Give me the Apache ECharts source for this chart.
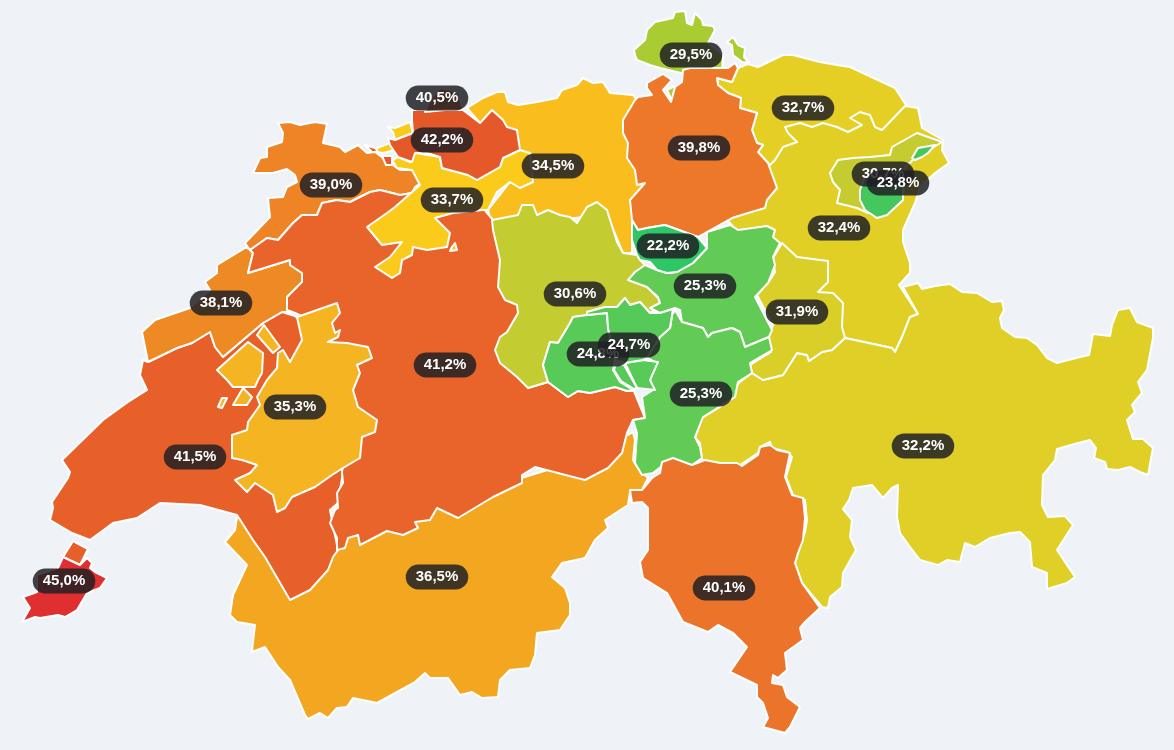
<!DOCTYPE html>
<html><head><meta charset="utf-8">
<style>html,body{margin:0;padding:0;background:#eff3f7;}#c{width:1174px;height:750px;}</style>
<script src="https://cdn.jsdelivr.net/npm/echarts@6/dist/echarts.min.js"></script>
</head><body><div id="c"></div>
<script>
const cantons = ["VS","AG","SG","TG","GR","GL","SH","ZH","VD","NE","JU","BE","LU","FR","SO","BL","BS","SZ","UR","ZG","OW","NW","TI","GE","AR","AI"];
const shares = [36.5,34.5,32.4,32.7,32.2,31.9,29.5,39.8,41.5,38.1,39.0,41.2,30.6,35.3,33.7,42.2,40.5,25.3,25.3,22.2,24.8,24.7,40.1,45.0,30.7,23.8];
const colourStops = [[22.2,"#2fc766"],[23.8,"#44c85e"],[25.3,"#62cb55"],[29.5,"#a9cc33"],[30.6,"#c3cc30"],[32.2,"#dfcf26"],[32.7,"#e6cf25"],[33.7,"#fbcb1c"],[34.5,"#f9be1e"],[35.3,"#f5b522"],[36.5,"#f3a620"],[38.1,"#ee8a23"],[39.0,"#ee8425"],[40.1,"#ec742a"],[41.2,"#e8642a"],[42.2,"#e5582a"],[45.0,"#e02f30"]];

// canton outlines, in screen pixels of the reference map; later outlines lie on top of earlier ones
const outlines = {
VS:{cp:[437,577],rings:[[[237,517],[235,530],[225,542],[247,565],[233,595],[230,615],[237,622],[255,625],[253,642],[252,652],[265,647],[278,667],[290,680],[305,715],[308,719],[320,713],[328,718],[337,708],[347,707],[353,698],[377,703],[397,692],[415,682],[425,673],[430,678],[448,678],[460,695],[472,692],[482,698],[498,697],[500,680],[510,670],[530,668],[535,655],[537,633],[560,630],[570,615],[570,603],[565,588],[552,577],[562,563],[585,558],[595,540],[608,528],[605,520],[628,505],[630,492],[642,490],[648,478],[637,467],[633,460],[635,440],[633,432],[580,460],[450,500],[350,530],[300,520],[250,505]]]},
AG:{cp:[553,166],rings:[[[467,108],[483,98],[497,92],[505,92],[508,102],[518,105],[537,102],[557,98],[562,90],[577,85],[583,78],[593,83],[603,82],[610,93],[633,95],[637,100],[650,120],[650,200],[632,222],[632,253],[623,253],[607,215],[500,225],[490,218],[488,210],[510,182],[505,160],[480,123]]]},
SG:{cp:[839,228],rings:[[[770,165],[780,120],[905,106],[918,108],[922,128],[943,140],[942,150],[949,163],[935,173],[920,187],[915,203],[903,230],[903,242],[910,263],[910,273],[899,285],[918,314],[910,317],[902,337],[895,352],[892,348],[845,338],[800,300],[775,250],[770,232],[738,232],[728,221],[760,195],[760,170]]]},
TG:{cp:[803,108],rings:[[[748,64],[758,67],[783,55],[793,55],[812,60],[820,62],[837,65],[850,67],[895,88],[906,105],[882,130],[875,127],[870,115],[860,112],[850,118],[862,125],[848,132],[837,127],[823,123],[812,127],[800,123],[785,127],[788,133],[797,142],[783,147],[775,160],[770,165],[768,163],[758,152],[763,145],[757,143],[752,130],[757,113],[740,108],[741,98],[728,93],[718,85],[717,78],[732,82],[738,68]]]},
GR:{cp:[923,446],rings:[[[903,287],[918,283],[922,289],[935,286],[950,284],[962,292],[977,293],[992,302],[1002,301],[1004,310],[1000,318],[1002,328],[1015,337],[1027,338],[1037,345],[1047,358],[1057,363],[1080,357],[1089,355],[1093,334],[1110,336],[1112,325],[1118,310],[1130,308],[1137,322],[1153,328],[1153,338],[1147,370],[1138,382],[1142,393],[1132,405],[1135,412],[1127,420],[1133,439],[1143,439],[1153,448],[1148,475],[1140,472],[1130,467],[1118,470],[1107,469],[1105,462],[1094,458],[1096,448],[1090,440],[1078,443],[1057,449],[1055,460],[1043,475],[1042,505],[1048,517],[1065,516],[1073,525],[1057,550],[1075,577],[1067,583],[1047,589],[1047,573],[1032,567],[1030,542],[1020,532],[1010,533],[990,538],[975,547],[965,543],[960,562],[947,560],[938,565],[920,560],[910,547],[900,533],[897,517],[898,485],[892,488],[883,498],[872,485],[853,488],[849,500],[843,509],[852,520],[850,537],[856,550],[843,573],[842,587],[830,597],[828,608],[822,607],[802,583],[795,563],[800,547],[805,532],[807,520],[805,500],[793,495],[786,477],[792,457],[788,452],[772,448],[770,442],[760,447],[758,453],[740,465],[732,465],[712,462],[702,460],[700,443],[695,438],[702,418],[720,407],[740,382],[752,373],[763,380],[783,375],[797,353],[807,355],[809,361],[822,352],[832,350],[845,338],[892,348],[895,352],[902,337],[910,317],[918,314]]]},
GL:{cp:[797,312],rings:[[[782,243],[797,257],[828,261],[828,282],[818,292],[833,293],[843,303],[842,327],[845,338],[832,350],[822,352],[809,361],[807,355],[797,353],[783,375],[763,380],[752,373],[750,365],[771,352],[768,337],[773,325],[757,295],[770,280],[775,272],[773,258]]]},
SH:{cp:[691,55],rings:[[[634,50],[645,40],[647,30],[655,22],[673,18],[675,12],[685,11],[687,23],[692,25],[695,13],[702,20],[703,25],[713,26],[715,30],[708,43],[723,55],[722,72],[685,74],[660,68],[650,65],[637,60],[635,55]],[[727,42],[733,37],[738,45],[745,48],[744,57],[749,63],[742,62],[733,55],[732,45]],[[667,90],[675,86],[677,90],[672,101]]]},
ZH:{cp:[699,148],rings:[[[683,70],[690,68],[720,68],[728,68],[735,63],[738,68],[732,82],[717,78],[718,85],[728,93],[741,98],[740,108],[757,113],[752,130],[757,143],[763,145],[758,152],[768,163],[777,188],[767,200],[765,208],[748,213],[732,218],[707,232],[698,237],[687,233],[665,225],[647,228],[638,230],[632,220],[630,200],[645,183],[637,185],[635,170],[627,158],[628,143],[623,133],[623,120],[635,100],[638,97],[652,95],[647,88],[647,83],[663,74],[672,80],[663,90],[665,93],[671,102],[675,87],[682,82]]]},
VD:{cp:[195,457],rings:[[[143,360],[140,375],[147,390],[128,402],[103,420],[62,460],[70,472],[68,478],[52,502],[53,508],[50,520],[72,533],[90,540],[113,523],[137,518],[160,503],[200,505],[237,515],[253,540],[265,557],[290,600],[310,590],[328,570],[333,557],[338,550],[330,510],[338,503],[343,472],[345,450],[310,330],[295,316],[282,312],[263,323],[223,357],[215,347],[210,332],[192,343],[177,348],[148,362]],[[73,541],[88,549],[80,565],[63,557]]]},
NE:{cp:[221,303],rings:[[[247,248],[250,250],[253,253],[248,273],[290,260],[290,265],[302,273],[302,282],[287,297],[290,312],[282,312],[263,323],[223,357],[215,347],[210,332],[192,343],[177,348],[148,362],[142,332],[155,320],[190,308],[210,290],[205,282],[217,273],[217,265],[245,248]]]},
JU:{cp:[331,185],rings:[[[278,123],[290,122],[300,125],[315,122],[327,124],[323,143],[340,147],[345,152],[358,145],[367,153],[375,152],[390,163],[400,170],[412,170],[422,182],[415,187],[412,193],[400,195],[380,190],[370,192],[350,202],[337,200],[322,203],[317,215],[302,215],[293,223],[278,240],[267,238],[250,250],[245,243],[270,217],[268,198],[283,197],[287,187],[297,182],[295,175],[287,169],[273,173],[253,173],[260,158],[267,157],[267,147],[282,142],[283,133]]]},
BE:{cp:[445,365],rings:[[[250,250],[267,238],[278,240],[293,223],[302,215],[317,215],[322,203],[337,200],[350,202],[370,192],[380,190],[400,195],[412,193],[430,190],[483,208],[493,220],[503,255],[525,270],[540,330],[535,375],[528,388],[548,382],[568,397],[578,391],[590,393],[615,387],[627,391],[634,391],[645,418],[633,420],[627,433],[622,453],[608,468],[585,480],[577,478],[535,467],[522,475],[522,483],[493,497],[458,518],[437,508],[430,520],[415,522],[418,528],[403,535],[387,531],[360,545],[358,535],[348,538],[345,548],[337,550],[337,538],[330,523],[335,510],[338,508],[337,493],[343,483],[342,472],[345,450],[320,350],[310,320],[295,313],[287,310],[287,297],[302,282],[302,273],[290,265],[290,260],[248,273],[253,253]]]},
LU:{cp:[575,294],rings:[[[492,220],[518,215],[522,205],[533,205],[537,215],[548,210],[560,215],[570,217],[577,223],[587,207],[597,202],[607,210],[617,242],[623,253],[637,255],[640,260],[645,265],[630,280],[647,287],[660,300],[658,307],[650,313],[640,302],[630,305],[625,298],[617,307],[605,307],[587,312],[587,315],[573,317],[570,323],[558,343],[550,342],[543,365],[548,382],[528,388],[517,377],[500,363],[495,350],[500,337],[507,332],[518,313],[517,305],[505,300],[498,287],[500,260],[493,230]]]},
FR:{cp:[295,407],rings:[[[297,317],[337,303],[340,313],[332,323],[335,333],[340,330],[338,337],[328,342],[347,343],[368,347],[372,358],[357,365],[360,373],[353,390],[358,407],[377,420],[375,432],[362,437],[360,458],[343,468],[332,475],[315,487],[292,497],[285,508],[277,512],[273,495],[255,483],[247,492],[235,480],[250,473],[257,465],[242,460],[232,458],[232,435],[247,430],[248,422],[260,405],[257,397],[267,380],[277,368],[278,353],[283,350],[290,362],[302,340]],[[217,370],[248,342],[263,353],[262,373],[258,380],[255,387],[233,387],[227,380]],[[257,335],[264,325],[280,347],[273,353]],[[243,388],[252,397],[247,405],[233,405]],[[222,398],[227,398],[222,408],[218,407]]]},
SO:{cp:[452,200],rings:[[[367,227],[387,213],[395,207],[420,185],[412,170],[397,168],[392,160],[398,157],[410,162],[415,153],[440,157],[442,168],[468,175],[477,180],[500,167],[503,158],[520,150],[530,153],[533,182],[520,188],[510,182],[497,192],[488,210],[483,210],[453,213],[435,218],[450,233],[447,247],[427,250],[413,247],[412,255],[402,260],[400,273],[392,278],[375,267],[390,257],[402,242],[382,245]],[[452,247],[455,243],[457,250],[450,251]],[[388,127],[395,128],[410,122],[413,133],[395,140],[393,132]],[[377,148],[390,143],[395,150],[383,153],[377,152]]]},
BL:{cp:[442,140],rings:[[[412,110],[463,110],[480,123],[492,110],[503,120],[507,127],[517,130],[520,150],[503,158],[500,167],[477,180],[468,175],[442,168],[440,157],[427,153],[415,153],[412,162],[398,157],[390,145],[388,138],[395,140],[413,133],[412,120]],[[365,145],[375,148],[378,152],[372,152]],[[382,156],[392,156],[392,165],[386,165]]]},
BS:{cp:[437,98],rings:[[[425,112],[430,100],[440,88],[452,90],[460,100],[463,110],[445,110]]]},
SZ:{cp:[705,286],rings:[[[707,232],[730,225],[738,230],[767,226],[775,230],[773,237],[780,243],[773,257],[775,265],[768,283],[755,297],[772,330],[769,337],[745,347],[740,332],[732,328],[712,333],[708,337],[703,328],[682,322],[680,310],[675,308],[660,313],[650,308],[660,303],[658,297],[647,287],[628,280],[635,272],[645,265],[657,270],[667,273],[677,272],[693,263],[707,248]]]},
UR:{cp:[701,394],rings:[[[675,310],[682,322],[703,328],[708,337],[712,333],[732,328],[740,332],[745,347],[769,337],[772,350],[750,363],[752,373],[738,382],[735,397],[703,417],[695,437],[700,447],[702,458],[692,465],[667,462],[653,473],[642,475],[635,463],[637,433],[633,420],[645,418],[642,397],[653,390],[650,380],[657,363],[647,358],[660,337],[670,328],[672,315]]]},
ZG:{cp:[668,246],rings:[[[632,220],[638,230],[647,228],[665,225],[687,233],[698,237],[707,248],[693,263],[677,272],[667,273],[657,270],[650,262],[640,260],[637,255],[632,240]]]},
OW:{cp:[598,354],rings:[[[570,323],[573,317],[587,315],[607,313],[608,328],[615,360],[613,370],[620,382],[633,390],[627,391],[615,387],[590,393],[578,391],[568,397],[548,382],[543,365],[550,342],[558,343]],[[625,363],[637,388],[655,390],[650,380],[658,362],[643,360]]]},
NW:{cp:[629,345],rings:[[[587,312],[605,307],[617,307],[625,298],[630,305],[640,302],[650,313],[660,313],[673,309],[670,328],[660,337],[647,358],[643,360],[625,363],[615,360],[608,328],[607,313],[587,315]],[[616,364],[624,365],[637,388],[634,389],[621,381],[614,370]]]},
TI:{cp:[724,588],rings:[[[652,478],[660,473],[662,462],[673,458],[692,465],[705,460],[720,463],[737,463],[742,466],[758,455],[760,447],[770,445],[777,450],[790,453],[785,477],[792,495],[803,498],[805,518],[803,540],[798,553],[795,563],[802,583],[820,608],[805,622],[800,628],[803,640],[785,653],[787,670],[778,678],[773,675],[772,683],[783,685],[787,697],[800,707],[790,727],[785,733],[763,727],[768,718],[763,703],[757,697],[757,685],[730,672],[747,647],[733,633],[718,625],[708,632],[683,622],[667,593],[643,578],[640,562],[648,550],[648,508],[642,502],[632,503],[630,490],[642,490]]]},
GE:{cp:[64,581],rings:[[[58,568],[63,557],[80,565],[87,558],[92,563],[90,568],[95,572],[107,578],[100,588],[87,593],[77,610],[65,617],[58,615],[40,618],[35,617],[22,622],[30,608],[23,597],[37,592],[37,575]]]},
AR:{cp:[883,174],rings:[[[830,173],[838,160],[853,158],[870,157],[890,155],[892,147],[917,133],[942,142],[913,160],[905,167],[903,197],[860,192],[868,213],[857,208],[837,203],[840,190],[833,182]]]},
AI:{cp:[898,183],rings:[[[860,190],[865,177],[903,177],[903,200],[887,215],[877,218],[865,210],[860,200]],[[912,158],[918,148],[935,145],[928,153],[922,157],[915,160]]]}
};

function shareColour(v){
  for(let i=1;i<colourStops.length;i++){
    const a=colourStops[i-1],b=colourStops[i];
    if(v<=b[0]) return echarts.color.lerp((v-a[0])/(b[0]-a[0]),[a[1],b[1]]);
  }
  return colourStops[colourStops.length-1][1];
}
const features=cantons.map(n=>({type:"Feature",properties:{name:n,cp:outlines[n].cp},
  geometry:{type:"MultiPolygon",coordinates:outlines[n].rings.map(r=>[r])}}));
echarts.registerMap("ch",{type:"FeatureCollection",features});
const all=cantons.flatMap(n=>outlines[n].rings.flat());
const x0=Math.min(...all.map(p=>p[0])),x1=Math.max(...all.map(p=>p[0]));
const y0=Math.min(...all.map(p=>p[1])),y1=Math.max(...all.map(p=>p[1]));

const chart=echarts.init(document.getElementById("c"),null,{renderer:"canvas"});
chart.setOption({
  backgroundColor:"#eff3f7",animation:false,
  series:[{type:"map",map:"ch",silent:true,
    projection:{project:p=>p,unproject:p=>p},
    left:x0,top:y0,width:x1-x0,height:y1-y0,
    itemStyle:{borderColor:"#ffffff",borderWidth:2,borderJoin:"round"},
    label:{show:true,color:"#fff",fontFamily:"Liberation Sans",fontSize:15,fontWeight:"bold",
      backgroundColor:"rgba(32,32,36,0.85)",borderRadius:13,padding:[5,10,5,10],
      formatter:p=>p.value.toFixed(1).replace(".",",")+"%"},
    emphasis:{disabled:true},
    data:cantons.map((n,i)=>({name:n,value:shares[i],itemStyle:{areaColor:shareColour(shares[i])}}))
  }]
});
</script></body></html>
